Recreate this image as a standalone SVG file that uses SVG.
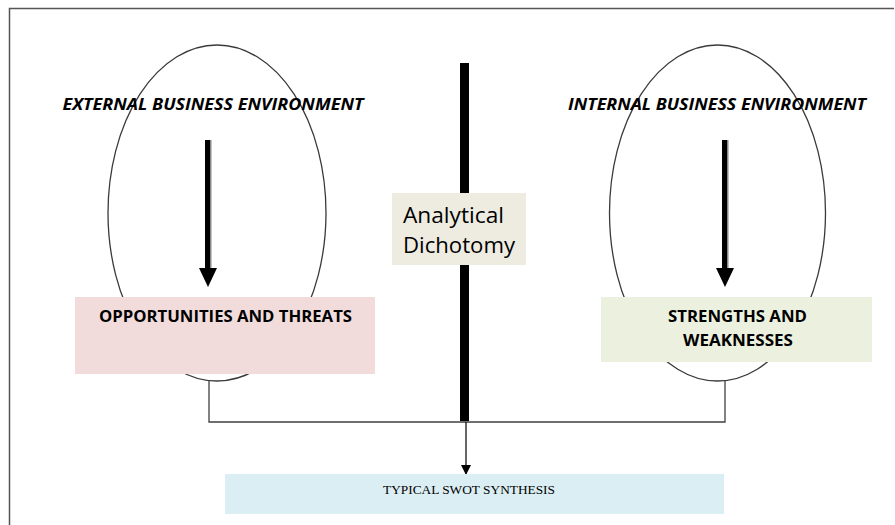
<svg xmlns="http://www.w3.org/2000/svg" width="895" height="525" viewBox="0 0 895 525">
<style>
.ell{fill:none;stroke:#3a3a3a;stroke-width:1.3}
.hdr{font-family:"Open Sans","Liberation Sans",sans-serif;font-weight:bold;font-style:italic;font-size:16px;fill:#000;text-anchor:middle}
.box{font-family:"Open Sans","Liberation Sans",sans-serif;font-weight:bold;font-size:16px;fill:#000;text-anchor:middle}
.conn{fill:none;stroke:#404040;stroke-width:1.3}
</style>
<defs>
<marker id="ah" markerWidth="10" markerHeight="10" refX="9" refY="5" orient="auto" markerUnits="userSpaceOnUse" viewBox="0 0 10 10">
<path d="M0,0 L10,5 L0,10 Z" fill="#000"/>
</marker>
</defs>
<rect width="895" height="525" fill="#fff"/>
<path d="M9.5,525 L9.5,8.5 L894,8.5" fill="none" stroke="#555" stroke-width="1.5"/>
<g id="connectors">
<path class="conn" d="M209,381 L209,422 L725,422 L725,381"/>
<line x1="466" y1="422" x2="466" y2="474" stroke="#000" stroke-width="1.2" marker-end="url(#ah)"/>
</g>
<g id="external">
<ellipse class="ell" cx="217" cy="213" rx="109" ry="168"/>
<text class="hdr" x="213" y="110" textLength="301" lengthAdjust="spacingAndGlyphs">EXTERNAL BUSINESS ENVIRONMENT</text>
<rect x="205" y="140" width="5" height="130" fill="#000"/>
<rect x="210" y="140" width="1.5" height="130" fill="#888"/>
<path d="M199,268 L217,268 L208,287 Z" fill="#000"/>
</g>
<g id="internal">
<ellipse class="ell" cx="717.5" cy="213" rx="108" ry="168"/>
<text class="hdr" x="717" y="110" textLength="298" lengthAdjust="spacingAndGlyphs">INTERNAL BUSINESS ENVIRONMENT</text>
<rect x="722" y="140" width="5" height="130" fill="#000"/>
<rect x="727" y="140" width="1.5" height="130" fill="#888"/>
<path d="M716,268 L734,268 L725,287 Z" fill="#000"/>
</g>
<g id="divider">
<rect x="460" y="63" width="9" height="358" fill="#000"/>
</g>
<g id="analytical">
<rect x="392" y="193" width="134" height="72" fill="#eeece1"/>
<text x="403" y="223" font-family="'Open Sans','Liberation Sans',sans-serif" font-size="21" fill="#000" textLength="101" lengthAdjust="spacingAndGlyphs">Analytical</text>
<text x="403" y="253" font-family="'Open Sans','Liberation Sans',sans-serif" font-size="21" fill="#000" textLength="112" lengthAdjust="spacingAndGlyphs">Dichotomy</text>
</g>
<g id="opportunities">
<rect x="75" y="297" width="300" height="77" fill="#f2dcdb"/>
<text class="box" x="225.5" y="322" textLength="253" lengthAdjust="spacingAndGlyphs">OPPORTUNITIES AND THREATS</text>
</g>
<g id="strengths">
<rect x="601" y="297" width="271" height="65" fill="#ebf1de"/>
<text class="box" x="737.5" y="322" textLength="139" lengthAdjust="spacingAndGlyphs">STRENGTHS AND</text>
<text class="box" x="738" y="346" textLength="110" lengthAdjust="spacingAndGlyphs">WEAKNESSES</text>
</g>
<g id="synthesis">
<rect x="225" y="474" width="499" height="40" fill="#dbeef3"/>
<text x="469" y="494" font-family="'Liberation Serif',serif" font-size="13" fill="#000" text-anchor="middle" textLength="172" lengthAdjust="spacingAndGlyphs">TYPICAL SWOT SYNTHESIS</text>
</g>
</svg>
